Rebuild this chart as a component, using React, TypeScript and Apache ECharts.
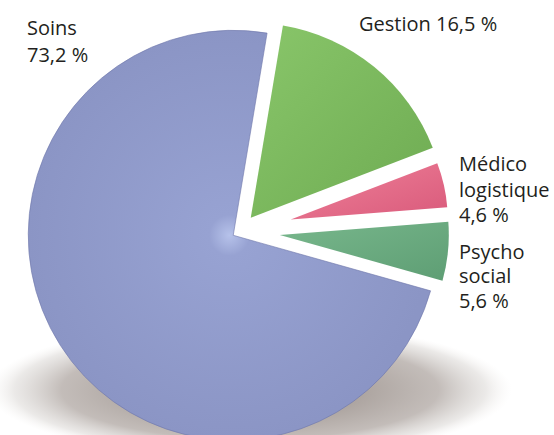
import React, { useEffect, useRef } from 'react';
import * as echarts from 'echarts';

// ---- data ----
const categories = ['Gestion', 'Médico logistique', 'Psycho social', 'Soins'];
const labelLines = [['Gestion'], ['Médico', 'logistique'], ['Psycho', 'social'], ['Soins']];
const values = [16.5, 4.6, 5.6, 73.2];

// ---- styling / layout ----
const radii = [195, 157, 169, 205];
const offsets = [17, 52, 40, 8];
const center = [240, 231];
const startAngle = 80.5;
const fills = [
  new echarts.graphic.LinearGradient(0, 0, 1, 1, [
    { offset: 0, color: '#89c66a' },
    { offset: 1, color: '#6eab52' },
  ]),
  new echarts.graphic.LinearGradient(0, 0, 1, 1, [
    { offset: 0, color: '#ef8199' },
    { offset: 1, color: '#d95a7b' },
  ]),
  new echarts.graphic.LinearGradient(0, 0, 1, 1, [
    { offset: 0, color: '#78b78c' },
    { offset: 1, color: '#5e9e74' },
  ]),
  new echarts.graphic.RadialGradient(0.5, 0.5, 0.5, [
    { offset: 0, color: '#b6c2ea' },
    { offset: 0.1, color: '#97a2d2' },
    { offset: 1, color: '#8b95c5' },
  ]),
];
const labelPos = [
  { x: 359, y: 11, lh: 25, inline: true },
  { x: 459, y: 151, lh: 25.5, inline: false },
  { x: 459, y: 239, lh: 24.5, inline: false },
  { x: 27, y: 14, lh: 27, inline: false },
];

const fmt = (v: number) => v.toFixed(1).replace('.', ',') + ' %';

export default function App() {
  const ref = useRef<HTMLDivElement>(null);
  useEffect(() => {
    if (!ref.current) return;
    const chart = echarts.init(ref.current, null, { renderer: 'svg' });
    const order = [3, 0, 1, 2];
    const series = order.map((k) => ({
      type: 'pie',
      center,
      radius: [0, radii[k]],
      startAngle,
      clockwise: true,
      selectedMode: 'single',
      selectedOffset: offsets[k],
      silent: true,
      avoidLabelOverlap: false,
      label: { show: false },
      labelLine: { show: false },
      emphasis: { disabled: true },
      z: k === 3 ? 2 : 3,
      data: values.map((v, i) => ({
        name: categories[i],
        value: v,
        selected: i === k,
        itemStyle:
          i === k
            ? k === 3
              ? {
                  color: fills[k],
                  borderColor: 'rgba(110,118,170,0.6)',
                  borderWidth: 1,
                }
              : { color: fills[k] }
            : { color: 'rgba(0,0,0,0)' },
        select: {
          itemStyle: i === k ? {} : { color: 'rgba(0,0,0,0)' },
        },
      })),
    }));
    const graphic: any[] = values.map((v, i) => {
      const p = labelPos[i];
      const text = p.inline
        ? labelLines[i].join(' ') + ' ' + fmt(v)
        : [...labelLines[i], fmt(v)].join('\n');
      return {
        type: 'text',
        x: p.x,
        y: p.y,
        z: 10,
        style: {
          text,
          fill: '#231f20',
          font: '20px "Open Sans"',
          lineHeight: p.lh,
          verticalAlign: 'top',
        },
      };
    });
    // floor shadow beneath the pie
    graphic.unshift({
      type: 'circle',
      z: 0,
      silent: true,
      x: 250,
      y: 390,
      scaleX: 1,
      scaleY: 0.26,
      shape: { cx: 0, cy: 0, r: 262 },
      style: {
        fill: new echarts.graphic.RadialGradient(0.5, 0.5, 0.5, [
          { offset: 0, color: 'rgba(105,92,85,0.8)' },
          { offset: 0.72, color: 'rgba(135,122,115,0.5)' },
          { offset: 0.9, color: 'rgba(175,168,162,0.25)' },
          { offset: 1, color: 'rgba(225,220,215,0)' },
        ]),
      },
    });
    chart.setOption({
      animation: false,
      backgroundColor: '#ffffff',
      series,
      graphic,
    });
    return () => chart.dispose();
  }, []);
  return (
    <div
      ref={ref}
      style={{ position: 'fixed', left: 0, top: 0, width: 554, height: 435 }}
    />
  );
}
